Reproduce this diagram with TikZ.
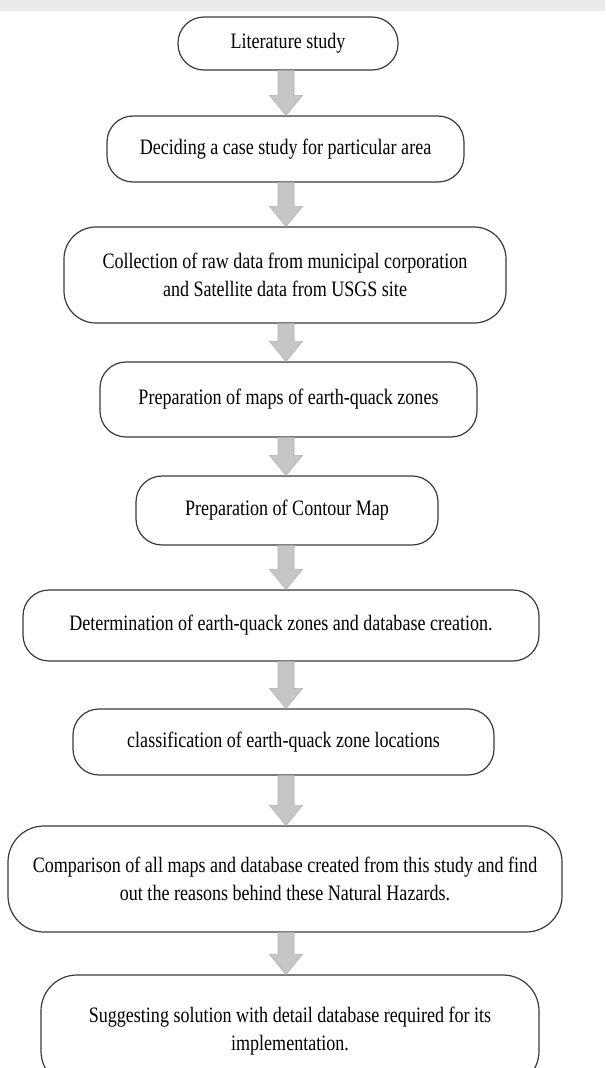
\documentclass[tikz,border=0pt]{standalone}
\usepackage{fontspec}
\setmainfont{Liberation Serif}[FakeStretch=0.82]
\usetikzlibrary{calc}
\definecolor{boxline}{HTML}{3A3A3A}
\definecolor{arrfill}{HTML}{C6C6C6}
\definecolor{arredge}{HTML}{B2B2B2}
\definecolor{band}{HTML}{EBEBEB}
\tikzset{
  stepbox/.style={draw=boxline, line width=1.2pt, rounded corners=26pt, fill=white,
    inner sep=0pt, align=center, font=\fontsize{22}{27.5}\selectfont},
  arrowsty/.style={fill=arrfill, draw=arredge, line width=0.6pt}
}
\newcommand{\blockarrow}[2]{%
  \path let \p1=(#1.south -| ax), \p2=(#2.north -| ax) in
    [arrowsty] (\x1-8pt,\y1) -- (\x1+8pt,\y1) -- (\x1+8pt,\y2+20pt) -- (\x1+16.5pt,\y2+20pt)
    -- (\x1,\y2) -- (\x1-16.5pt,\y2+20pt) -- (\x1-8pt,\y2+20pt) -- cycle;}
\begin{document}
\begin{tikzpicture}[x=1pt,y=-1pt]
\clip (0,0) rectangle (605,1068);
\fill[white] (0,0) rectangle (605,1068);
\fill[band] (0,0) rectangle (605,11);
\coordinate (ax) at (286,0);
\node[stepbox, minimum width=220pt, minimum height=53pt] (b1) at (288,43.5) {Literature study};
\node[stepbox, minimum width=357pt, minimum height=66pt] (b2) at (285.5,149) {Deciding a case study for particular area};
\node[stepbox, minimum width=442pt, minimum height=96pt, rounded corners=32pt] (b3) at (285,275) {Collection of raw data from municipal corporation\\and Satellite data from USGS site};
\node[stepbox, minimum width=377pt, minimum height=75pt] (b4) at (288.5,399.5) {Preparation of maps of earth-quack zones};
\node[stepbox, minimum width=302pt, minimum height=69pt] (b5) at (287,510.5) {Preparation of Contour Map};
\node[stepbox, minimum width=516pt, minimum height=71pt] (b6) at (281,625.5) {Determination of earth-quack zones and database creation.};
\node[stepbox, minimum width=421pt, minimum height=66pt] (b7) at (283.5,742) {classification of earth-quack zone locations};
\node[stepbox, minimum width=554pt, minimum height=106pt, rounded corners=36pt] (b8) at (285,879) {Comparison of all maps and database created from this study and find\\out the reasons behind these Natural Hazards.};
\node[stepbox, minimum width=498pt, minimum height=112pt, rounded corners=36pt] (b9) at (290,1031) {Suggesting solution with detail database required for its\\implementation.};
\blockarrow{b1}{b2}
\blockarrow{b2}{b3}
\blockarrow{b3}{b4}
\blockarrow{b4}{b5}
\blockarrow{b5}{b6}
\blockarrow{b6}{b7}
\blockarrow{b7}{b8}
\blockarrow{b8}{b9}
\end{tikzpicture}
\end{document}
